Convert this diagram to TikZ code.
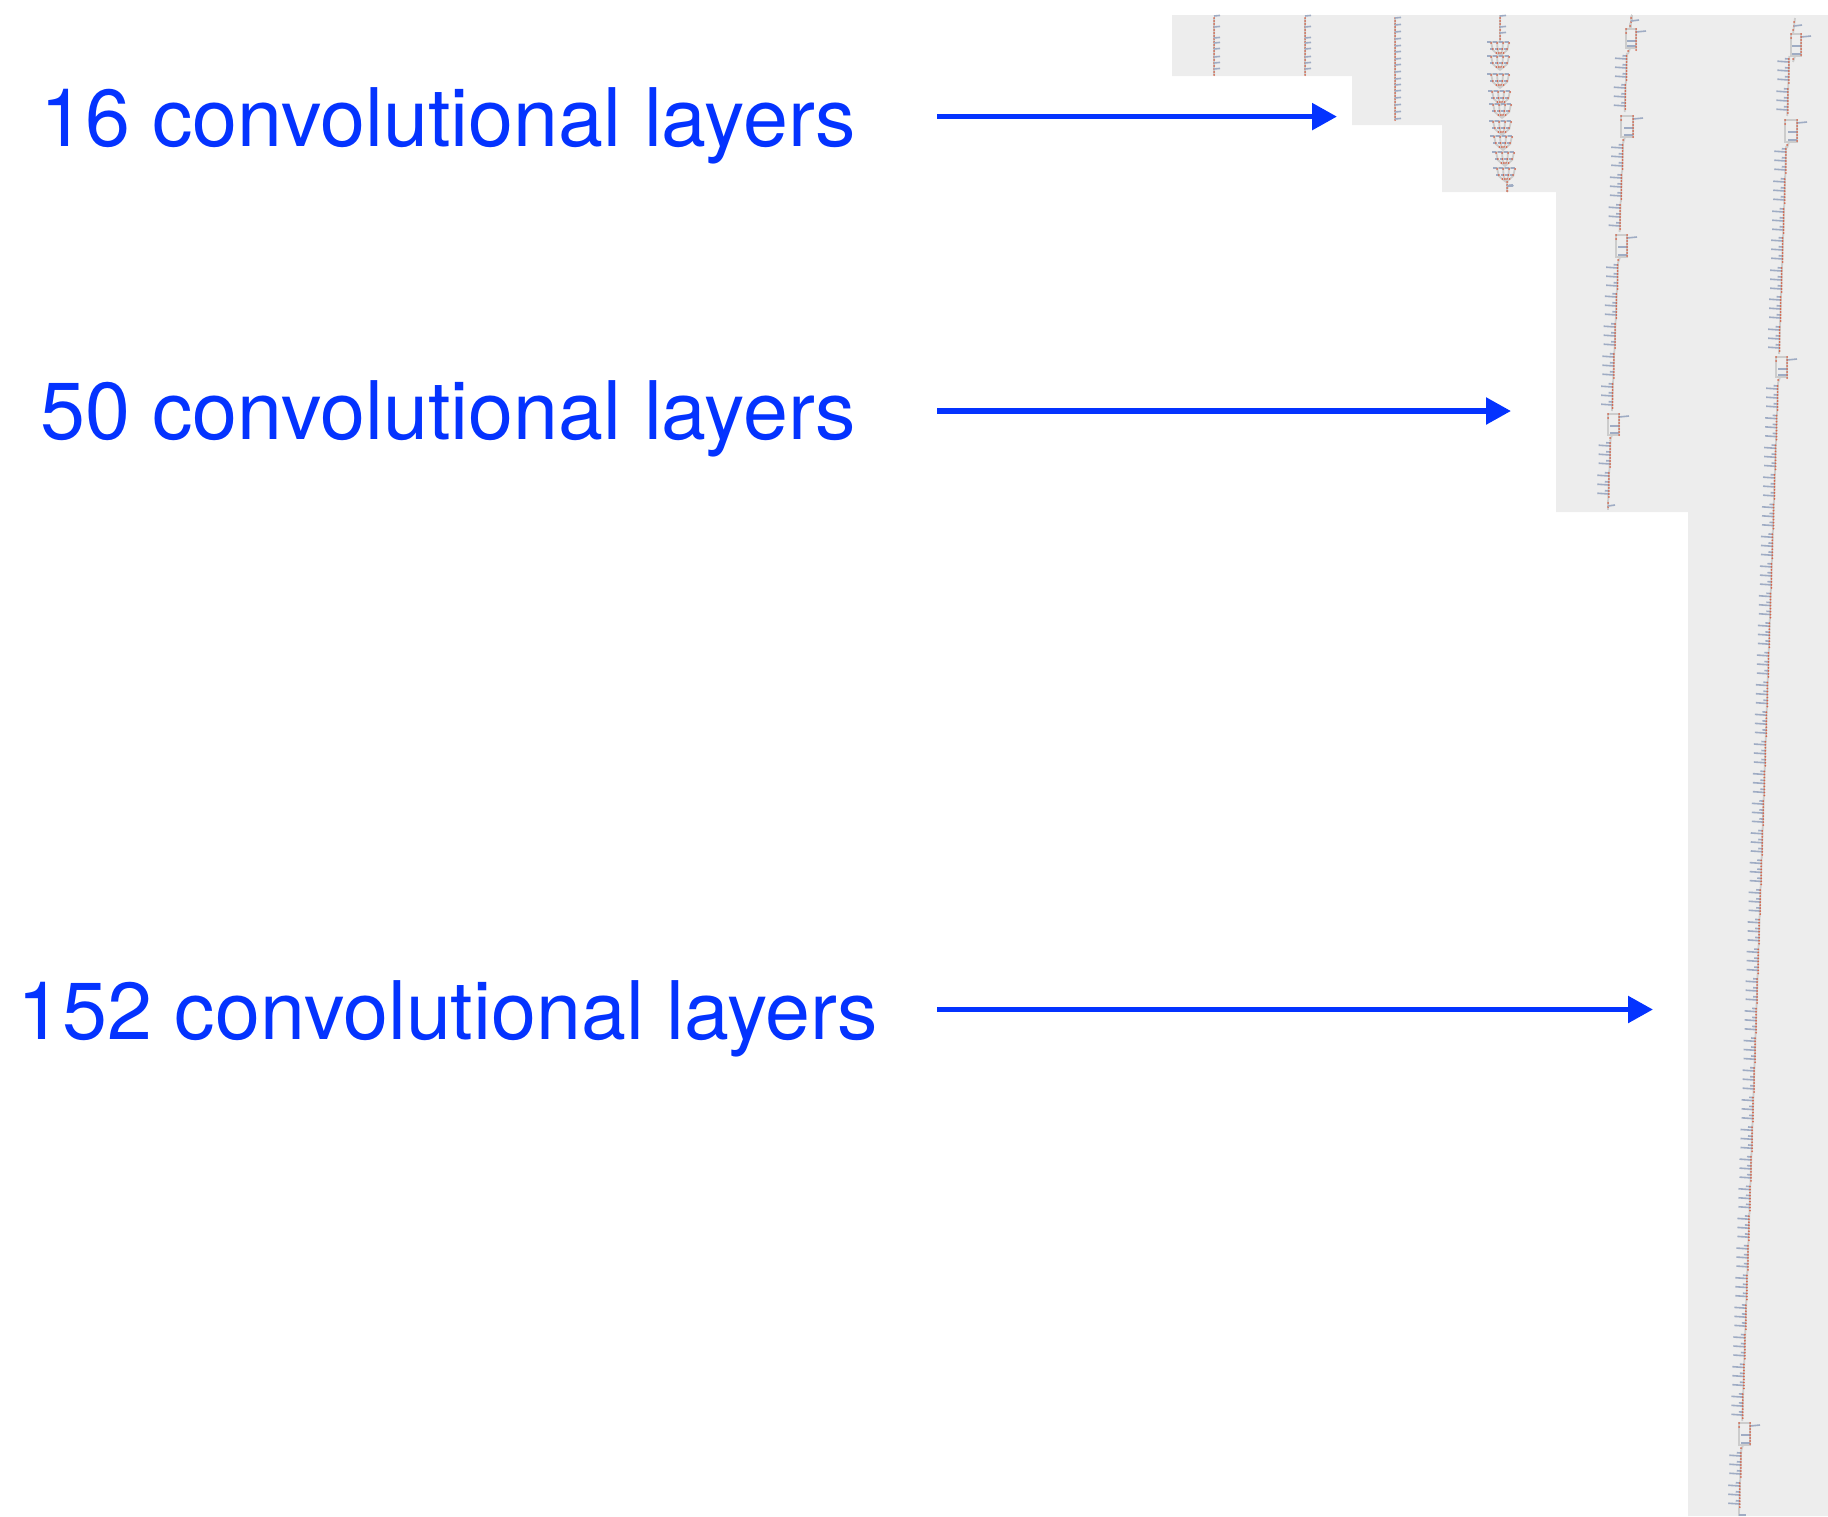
\documentclass[tikz,border=0pt]{standalone}
\usepackage{fontspec}
\setmainfont{TeX Gyre Heros}
\usetikzlibrary{arrows.meta}
\definecolor{labelblue}{HTML}{0433FF}
\definecolor{panelgray}{HTML}{EDEDED}
\definecolor{spinegray}{HTML}{CCCCCC}
\definecolor{tickblue}{HTML}{9FACC4}
\definecolor{dotred}{HTML}{D4664C}
\tikzset{
layerlabel/.style={text=labelblue, font=\fontsize{80.8}{96}\selectfont, inner sep=0, minimum width=978, text height=80, text depth=20},
layerarrow/.style={draw=labelblue, line width=5.5, -{Triangle[length=25,width=26]}},
netspine/.style={draw=spinegray, line width=1.8},
nettick/.style={draw=tickblue, line width=1.6},
netdot/.style={fill=dotred}
}
\newcommand{\plainnet}[4]{
\draw [netspine] (#1,#2) -- (#1,#3);
\pgfmathtruncatemacro{\ynext}{#2+3}
\foreach \y in {#2,\ynext,...,#3} \fill [netdot] (#1,\y) circle (1);
\foreach \y in {#4} \draw [nettick] (#1,\y) -- ++(6,-0.6);
}
\newcommand{\incnet}[2]{
\draw [netspine] (#1-9,#2-6) -- (#1+9,#2-6);
\foreach \d in {-9,-3,3,9} {
\draw [netspine] (#1+\d,#2-6) -- (#1+\d*0.8,#2+2) -- (#1,#2+8);
\draw [nettick] (#1+\d,#2-6) -- ++(-4,0);
\draw [nettick] (#1+\d*0.8,#2+1) -- ++(-3,0);
\fill [netdot] (#1+\d,#2-5) circle (1);
\fill [netdot] (#1+\d*0.8,#2+1) circle (1);
\fill [netdot] (#1+\d*0.4,#2+5) circle (1);
}
}
\newcommand{\resgroup}[2]{
\draw [netspine] (#1+0.4,#2-6) -- (#1-0.6,#2+24);
\foreach \s in {0,9,18} {
\draw [nettick] (#1,#2+\s) -- ++(-11.5,-0.8);
\draw [nettick] (#1,#2+\s-3) -- ++(-4,-0.3);
\fill [netdot] (#1,#2+\s-3) circle (1);
\fill [netdot] (#1,#2+\s) circle (1);
\fill [netdot] (#1,#2+\s+3) circle (1);
}
}
\newcommand{\bypassnet}[4]{
\draw [netspine] (#1,#3) rectangle (#2,#4);
\draw [netspine] (#1+4,#4) -- (#1+2,#4+6);
\draw [nettick] (#2,#3+3) -- ++(10,-1);
\draw [nettick] (#2,#3+12) -- ++(-9,0);
\draw [nettick] (#2,#4-2) -- ++(-9,0);
\foreach \s in {0,3,...,21} \fill [netdot] (#2,#3+\s) circle (1);
\fill [netdot] (#1,#3) circle (1);
\fill [netdot] (#1,#3+4) circle (1);
\fill [netdot] (#1+2,#4+3) circle (1);
}
\begin{document}
\begin{tikzpicture}[x=1pt, y=-1pt,
declare function={midx(\t)=1629-0.0425*\t; rightx(\t)=1791-0.0345*\t;}]
\useasboundingbox (0,0) rectangle (1828,1516);
\fill [panelgray] (1172,15) -- (1828,15) -- (1828,1516) -- (1688,1516) -- (1688,512)
-- (1556,512) -- (1556,192) -- (1442,192) -- (1442,125) -- (1352,125) -- (1352,76)
-- (1172,76) -- cycle;
\node [layerlabel] (l16) at (448,116.6) {16 convolutional layers};
\node [layerlabel, text depth=23] (l50) at (448,411) {50 convolutional layers};
\node [layerlabel] (l152) at (448,1009.5) {152 convolutional layers};
\coordinate (t16) at (1337,116.6);
\coordinate (t50) at (1511,411);
\coordinate (t152) at (1653,1009.5);
\draw [layerarrow] (l16.east) -- (t16);
\draw [layerarrow] (l50.east) -- (t50);
\draw [layerarrow] (l152.east) -- (t152);
\plainnet{1214}{18}{75}{16,27,38,43,49,57,63,69}
\plainnet{1305}{18}{75}{16,27,38,43,49,57,63,69}
\plainnet{1395}{18}{120}{18,25,32,39,46,52,59,65,72,79,85,91,98,105,112,119}
\draw [netspine] (1500,15) -- (1500,42);
\plainnet{1500}{18}{42}{16,27,33}
\foreach \y/\x in {48/1500,62/1500,80/1500,97/1501,110/1502,127/1502,142/1503,158/1505,174/1506}
\incnet{\x}{\y}
\plainnet{1507}{182}{192}{186}
\draw [netspine] (1632,15) -- (1630,29);
\fill [netdot] (1631,18) circle (1) (1631,22) circle (1) (1630,26) circle (1);
\draw [nettick] (1631,21) -- ++(8,-1);
\bypassnet{1626}{1636}{29}{48}
\bypassnet{1621}{1633}{116}{137}
\bypassnet{1616}{1627}{235}{257}
\bypassnet{1608}{1619}{414}{435}
\foreach \y in {59,88,148,178,208,268,297,327,357,387,446,476} {
\pgfmathsetmacro{\xm}{midx(\y)}
\resgroup{\xm}{\y}
}
\draw [netspine] (1608,500) -- (1608,510);
\fill [netdot] (1608,503) circle (1) (1608,507) circle (1);
\draw [nettick] (1608,506) -- ++(7,-1);
\draw [netspine] (1795,18) -- (1793,34);
\fill [netdot] (1794,22) circle (1) (1794,26) circle (1) (1793,30) circle (1);
\draw [nettick] (1794,26) -- ++(8,-1);
\bypassnet{1791}{1801}{34}{56}
\bypassnet{1785}{1797}{120}{142}
\bypassnet{1776}{1787}{357}{377}
\bypassnet{1739}{1750}{1423}{1445}
\foreach \y in {62,92,152,182,212,241,271,300,330,1456,1486} {
\pgfmathsetmacro{\xr}{rightx(\y)}
\resgroup{\xr}{\y}
}
\foreach \k in {0,...,34} {
\pgfmathsetmacro{\yr}{389+29.65*\k}
\pgfmathsetmacro{\xr}{rightx(\yr)}
\resgroup{\xr}{\yr}
}
\draw [netspine] (1739,1508) -- (1739,1516);
\draw [nettick] (1739,1515) -- ++(7,0);
\end{tikzpicture}
\end{document}
